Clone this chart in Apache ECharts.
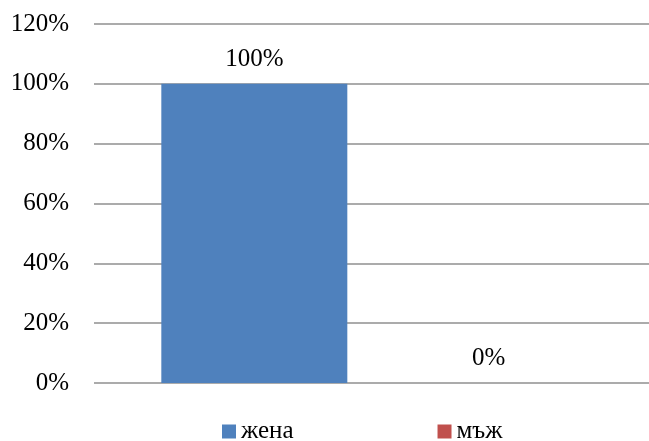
<!DOCTYPE html>
<html><head><meta charset="utf-8">
<script src="https://cdn.jsdelivr.net/npm/echarts@6/dist/echarts.min.js"></script>
<style>html,body{margin:0;padding:0;background:#fff}#c{width:649px;height:441px}</style>
</head><body><div id="c"></div>
<script>
const categories = [''];
const seriesNames = ['жена', 'мъж'];
const zhena = [100];
const mazh = [0];
const yTicks = [0, 20, 40, 60, 80, 100, 120];

const font = 'Liberation Serif, Times New Roman, serif';
const chart = echarts.init(document.getElementById('c'));
chart.setOption({
  animation: false,
  textStyle: { fontFamily: font },
  grid: { left: 94, right: 0, top: 24, bottom: 58 },
  legend: {
    data: seriesNames,
    left: 217, top: 414,
    itemWidth: 14, itemHeight: 14, itemGap: 144,
    icon: 'rect',
    textStyle: { fontFamily: font, fontSize: 25, color: '#000' }
  },
  xAxis: {
    type: 'category', data: categories,
    axisLine: { show: false }, axisTick: { show: false }, axisLabel: { show: false }
  },
  yAxis: {
    type: 'value', min: yTicks[0], max: yTicks[yTicks.length - 1], interval: 20,
    axisLine: { show: false }, axisTick: { show: false },
    axisLabel: { formatter: '{value}%', fontFamily: font, fontSize: 25, color: '#000', margin: 25 },
    splitLine: { lineStyle: { color: '#8f8f8f', width: 1.6 } }
  },
  series: [
    { name: seriesNames[0], type: 'bar', data: zhena, barWidth: 186, barGap: '26%',
      itemStyle: { color: '#4F81BD' },
      label: { show: true, position: 'top', distance: 12, formatter: '{c}%', fontFamily: font, fontSize: 25, color: '#000' } },
    { name: seriesNames[1], type: 'bar', data: mazh, barWidth: 186,
      itemStyle: { color: '#C0504D' },
      label: { show: true, position: 'top', distance: 12, formatter: '{c}%', fontFamily: font, fontSize: 25, color: '#000' } }
  ]
});
</script></body></html>
